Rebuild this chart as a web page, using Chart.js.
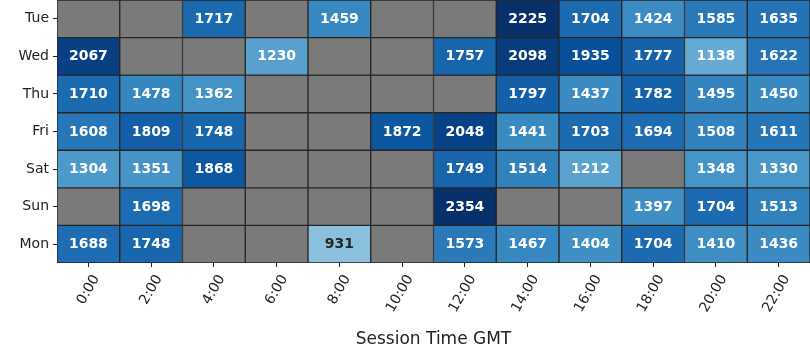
<!DOCTYPE html>
<html>
<head>
<meta charset="utf-8">
<script src="https://cdn.jsdelivr.net/npm/chart.js@4.4.1/dist/chart.umd.min.js"></script>
<style>
  html, body { margin: 0; padding: 0; background: #ffffff; }
  #wrap { width: 810px; height: 360px; }
</style>
</head>
<body>
<div id="wrap"><canvas id="c" width="810" height="360"></canvas></div>
<script>
// ---- data ----
const days = ['Tue', 'Wed', 'Thu', 'Fri', 'Sat', 'Sun', 'Mon'];
const hours = ['0:00', '2:00', '4:00', '6:00', '8:00', '10:00', '12:00', '14:00', '16:00', '18:00', '20:00', '22:00'];
const tue = [null, null, 1717, null, 1459, null, null, 2225, 1704, 1424, 1585, 1635];
const wed = [2067, null, null, 1230, null, null, 1757, 2098, 1935, 1777, 1138, 1622];
const thu = [1710, 1478, 1362, null, null, null, null, 1797, 1437, 1782, 1495, 1450];
const fri = [1608, 1809, 1748, null, null, 1872, 2048, 1441, 1703, 1694, 1508, 1611];
const sat = [1304, 1351, 1868, null, null, null, 1749, 1514, 1212, null, 1348, 1330];
const sun = [null, 1698, null, null, null, null, 2354, null, null, 1397, 1704, 1513];
const mon = [1688, 1748, null, null, 931, null, 1573, 1467, 1404, 1704, 1410, 1436];
const rowValues = [tue, wed, thu, fri, sat, sun, mon];
const colorMin = 0;
const colorMax = 2200;

// ---- Blues colormap ----
const blues = ['#f7fbff', '#deebf7', '#c6dbef', '#9ecae1', '#6baed6', '#4292c6', '#2171b5', '#08519c', '#08306b'];
function hexToRgb(h) { return [parseInt(h.slice(1, 3), 16), parseInt(h.slice(3, 5), 16), parseInt(h.slice(5, 7), 16)]; }
const bluesRgb = blues.map(hexToRgb);
function bluesAt(t) {
  t = Math.max(0, Math.min(1, t));
  const p = t * (bluesRgb.length - 1);
  const i = Math.min(Math.floor(p), bluesRgb.length - 2);
  const f = p - i;
  return bluesRgb[i].map((c, k) => Math.round(c + (bluesRgb[i + 1][k] - c) * f));
}
function cellRgb(v) { return bluesAt((v - colorMin) / (colorMax - colorMin)); }
function rgbStr(c) { return 'rgb(' + c[0] + ',' + c[1] + ',' + c[2] + ')'; }
function lum(c) {
  const l = c.map(x => { x /= 255; return x <= 0.03928 ? x / 12.92 : Math.pow((x + 0.055) / 1.055, 2.4); });
  return 0.2126 * l[0] + 0.7152 * l[1] + 0.0722 * l[2];
}
const missingColor = '#7a7a7a';
const edgeColor = '#262626';

const datasets = rowValues.map((vals, r) => ({
  label: days[r],
  data: vals.map(() => [r, r + 1]),
  values: vals,
  backgroundColor: ctx => {
    const v = vals[ctx.dataIndex];
    return v == null ? missingColor : rgbStr(cellRgb(v));
  },
  borderColor: edgeColor,
  borderWidth: 1,
  borderSkipped: false,
  barPercentage: 1,
  categoryPercentage: 1,
  grouped: false
}));

const labelPlugin = {
  id: 'cellLabels',
  afterDatasetsDraw(chart) {
    const ctx = chart.ctx;
    ctx.save();
    ctx.font = 'bold 14px "DejaVu Sans"';
    ctx.textAlign = 'center';
    ctx.textBaseline = 'middle';
    chart.data.datasets.forEach((ds, r) => {
      const meta = chart.getDatasetMeta(r);
      meta.data.forEach((el, j) => {
        const v = ds.values[j];
        if (v == null) return;
        const c = cellRgb(v);
        ctx.fillStyle = lum(c) > 0.408 ? '#262626' : '#ffffff';
        ctx.fillText(String(v), el.x, (el.y + el.base) / 2 + 0.5);
      });
    });
    ctx.restore();
  }
};

Chart.defaults.font.family = '"DejaVu Sans"';
Chart.defaults.color = '#222222';

new Chart(document.getElementById('c'), {
  type: 'bar',
  data: { labels: hours, datasets },
  options: {
    responsive: false,
    animation: false,
    layout: { padding: 0 },
    plugins: { legend: { display: false }, tooltip: { enabled: false } },
    scales: {
      x: {
        type: 'category',
        offset: true,
        grid: { offset: false, drawOnChartArea: false, drawTicks: true, tickLength: 4, tickColor: '#222', tickWidth: 1 },
        border: { display: false },
        ticks: { font: { size: 14 }, color: '#222', minRotation: 60, maxRotation: 60, padding: 5, labelOffset: 8 },
        title: { display: true, text: 'Session Time GMT', font: { size: 17 }, color: '#222', padding: { top: 0, bottom: 10 } },
        afterFit(scale) { scale.height = 97; scale.paddingLeft = 0; scale.paddingRight = 0; }
      },
      y: {
        type: 'linear',
        min: 0,
        max: days.length,
        reverse: true,
        grid: { drawOnChartArea: false, drawTicks: true, tickLength: 4, tickColor: '#222', tickWidth: 1 },
        border: { display: false },
        afterBuildTicks(scale) { scale.ticks = days.map((d, i) => ({ value: i + 0.5 })); },
        ticks: {
          font: { size: 14 }, color: '#222', padding: 4,
          callback: (v) => days[Math.floor(v)]
        },
        afterFit(scale) { scale.width = 57; scale.paddingTop = 0; scale.paddingBottom = 0; }
      }
    }
  },
  plugins: [labelPlugin]
});
</script>
</body>
</html>
